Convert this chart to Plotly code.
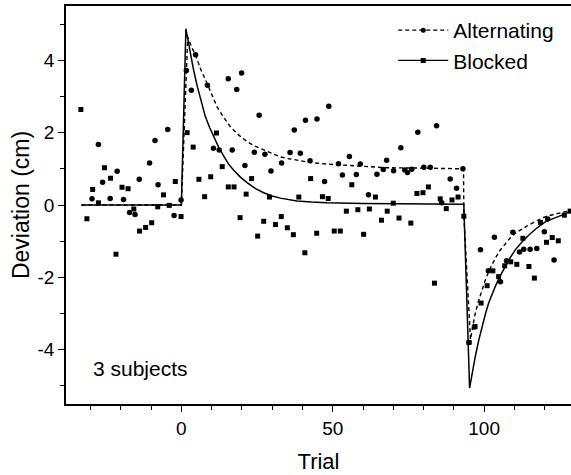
import plotly.graph_objects as go

# ---------------- data ----------------
# Blocked (squares)
blocked_trial = [-33.2, -31.2, -29.3, -27.4, -25.4, -23.4, -21.6, -19.6, -17.6, -15.7,
                 -13.8, -11.8, -9.8, -7.8, -5.9, -4.0, -2.0, -0.1,
                 1.9, 3.9, 5.8, 7.7, 9.7, 11.6, 13.5, 15.5, 17.4, 19.4, 21.4, 23.2,
                 25.2, 27.2, 29.1, 31.1, 33.0, 35.0, 37.0, 38.8, 40.8, 42.7, 44.7,
                 46.6, 48.5, 50.5, 52.5, 54.5, 56.3, 58.3, 60.2, 62.1, 64.1, 66.1,
                 68.0, 70.0, 71.9, 75.8, 77.8, 79.8, 81.6, 83.6, 85.5, 87.5, 89.4,
                 91.4, 93.3,
                 95.0, 97.0, 99.0, 101.0, 102.9, 104.8, 106.8, 108.8, 110.8, 112.8,
                 114.8, 116.6, 118.6, 120.6, 122.5, 124.5, 126.5, 128.4]
blocked_dev = [2.64, -0.38, 0.43, 0.06, 1.03, 0.74, -1.36, 0.49, 0.45, -0.11,
               -0.72, -0.62, -0.49, -0.05, 0.28, -0.01, 0.65, -0.32,
               2.00, 1.60, 0.71, 0.23, 0.78, 1.99, 1.06, 0.50, 0.50, -0.35, 0.30, 0.73,
               -0.86, -0.45, 0.22, -0.54, -0.32, -0.63, -0.82, 0.22, -1.32, 0.73, -0.78,
               0.23, 0.18, -0.72, -0.72, -0.17, 0.56, -0.13, -0.81, -0.11, 0.22, -0.42,
               -0.17, 0.05, -0.36, -0.50, 0.32, 0.34, 0.50, -2.16, 0.17, -0.10, 0.14,
               0.22, -0.31,
               -3.80, -3.36, -2.71, -2.23, -1.82, -1.98, -1.68, -1.57, -1.64, -0.92,
               -1.70, -2.02, -0.48, -1.03, -0.90, -0.99, -0.28, -0.17]

# Alternating (circles)
alt_trial = [-29.5, -27.4, -26.0, -23.5, -21.2, -19.1, -17.1, -15.3, -13.9, -10.5,
             -8.7, -7.7, -4.5, -2.4, -0.1,
             1.65, 3.3, 4.7, 8.6, 10.6, 12.5, 15.5, 16.8, 18.3, 19.9, 21.0, 24.1,
             25.7, 27.6, 29.6, 33.1, 35.9, 37.3, 39.3, 41.0, 42.5, 44.8, 47.3, 48.7,
             51.9, 53.2, 55.5, 57.8, 59.1, 61.8, 64.6, 66.7, 67.8, 70.1, 72.5, 73.8,
             74.7, 76.1, 78.1, 80.1, 82.2, 84.3, 86.0, 88.8, 90.9, 93.0,
             95.0, 96.8, 98.8, 101.4, 103.4, 105.4, 107.4, 109.5, 111.7, 113.1,
             115.2, 117.4, 119.9, 121.0, 123.1]
alt_dev = [0.17, 1.67, 0.63, 0.18, 0.93, 0.15, -0.21, -0.26, 0.71, 1.16,
           1.78, 0.56, 2.09, -0.29, 0.14,
           3.72, 3.17, 4.15, 3.31, 1.57, 1.52, 3.49, 1.52, 3.19, 3.65, 1.09, 1.46,
           2.48, 1.40, 0.94, 1.16, 1.45, 2.07, 1.43, 2.34, 1.22, 2.38, 0.65, 2.73,
           1.14, 0.83, 1.34, 0.84, 1.13, 0.28, 0.85, 0.98, 1.24, 0.95, 1.58, 0.97,
           0.90, 0.99, 2.01, 1.04, 1.04, 2.19, 0.06, 0.72, 0.46, 1.00,
           -3.80, -3.37, -1.24, -1.82, -0.89, -2.12, -1.54, -0.75, -1.30, -1.22,
           -1.22, -1.20, -0.74, -0.39, -1.52]

# Model curves
blocked_fit_trial = [-33, 0, 1.5, 2.2, 3.0, 4.0, 5.2, 6.5, 7.9, 9.3, 10.7, 12.3, 14.0,
                     15.6, 17.3, 19.5, 21.7, 24.5, 27.2, 30.0, 32.7, 35.5, 38.2, 43.0,
                     48.1, 60.0, 70.0, 93.3,
                     95.2, 96.0, 97.1, 98.2, 99.3, 100.4, 101.5, 102.6, 103.7, 105.3,
                     107.0, 108.6, 110.3, 112.5, 114.8, 117.5, 120.3, 123.0, 125.7, 128.7]
blocked_fit_dev = [0, 0, 4.87, 4.55, 4.18, 3.75, 3.30, 2.85, 2.45, 2.15, 1.90, 1.60, 1.35,
                   1.13, 0.96, 0.77, 0.62, 0.45, 0.34, 0.25, 0.19, 0.14, 0.11, 0.08,
                   0.06, 0.04, 0.03, 0.02,
                   -5.06, -4.65, -4.18, -3.75, -3.36, -3.02, -2.71, -2.46, -2.25, -1.96,
                   -1.70, -1.46, -1.24, -1.02, -0.83, -0.63, -0.46, -0.36, -0.28, -0.18]

alt_fit_trial = [-33, 0, 2.1, 3.3, 4.7, 6.5, 8.5, 10.2, 11.8, 14.0, 16.2, 19.0, 21.7,
                 24.5, 27.2, 30.0, 32.7, 35.5, 38.2, 43.0, 48.1, 56.9, 67.9, 78.9, 93.2,
                 93.3, 95.5, 96.3, 97.1, 98.2, 99.3, 100.4, 101.5, 102.6, 103.7, 105.3,
                 107.0, 108.6, 110.3, 112.5, 114.8, 117.5, 120.3, 123.0, 125.7, 128.7]
alt_fit_dev = [0, 0, 4.64, 4.38, 4.14, 3.73, 3.36, 3.00, 2.71, 2.42, 2.16, 1.93, 1.75,
               1.62, 1.52, 1.41, 1.33, 1.28, 1.24, 1.17, 1.13, 1.08, 1.03, 1.02, 1.00,
               -0.30, -3.72, -3.33, -2.99, -2.64, -2.34, -2.08, -1.84, -1.64, -1.47, -1.25,
               -1.06, -0.91, -0.78, -0.66, -0.55, -0.43, -0.32, -0.26, -0.21, -0.15]

x_tickvals = [0, 50, 100]
y_tickvals = [-4, -2, 0, 2, 4]

FONT = "Liberation Sans, Arial, sans-serif"

fig = go.Figure()

fig.add_trace(go.Scatter(x=alt_fit_trial, y=alt_fit_dev, mode="lines",
                         line=dict(color="black", width=1.4, dash="4px,3px"),
                         showlegend=False, hoverinfo="skip"))
fig.add_trace(go.Scatter(x=blocked_fit_trial, y=blocked_fit_dev, mode="lines",
                         line=dict(color="black", width=1.5),
                         showlegend=False, hoverinfo="skip"))
fig.add_trace(go.Scatter(x=alt_trial, y=alt_dev, mode="markers",
                         marker=dict(symbol="circle", size=5.5, color="black"),
                         showlegend=False))
fig.add_trace(go.Scatter(x=blocked_trial, y=blocked_dev, mode="markers",
                         marker=dict(symbol="square", size=5, color="black"),
                         showlegend=False))

# legend entries
fig.add_trace(go.Scatter(x=[None], y=[None], mode="lines+markers", name="Alternating",
                         line=dict(color="black", width=1.2, dash="4px,3px"),
                         marker=dict(symbol="circle", size=5, color="black")))
fig.add_trace(go.Scatter(x=[None], y=[None], mode="lines+markers", name="Blocked",
                         line=dict(color="black", width=1.2),
                         marker=dict(symbol="square", size=5, color="black")))

fig.add_annotation(x=-30, y=-4.52, xref="x", yref="y", text="3 subjects",
                   showarrow=False, xanchor="left", yanchor="middle",
                   font=dict(family=FONT, size=21, color="black"))

fig.update_layout(
    width=571, height=475,
    margin=dict(l=65.5, r=0, t=5.5, b=70.5),
    paper_bgcolor="white", plot_bgcolor="white",
    font=dict(family=FONT, size=19, color="black"),
    legend=dict(x=0.648, y=0.99, xanchor="left", yanchor="top",
                bgcolor="rgba(0,0,0,0)", borderwidth=0,
                font=dict(family=FONT, size=21, color="black"),
                itemwidth=50, tracegroupgap=0),
    xaxis=dict(range=[-38.1, 128.7], showgrid=False, zeroline=False,
               showline=True, linecolor="black", linewidth=1.5, mirror=True,
               ticks="outside", ticklen=6, tickwidth=1.3, tickcolor="black",
               tickvals=x_tickvals, ticktext=[str(v) for v in x_tickvals],
               tickfont=dict(size=19),
               minor=dict(dtick=10, tick0=0, ticks="outside", ticklen=4,
                          tickwidth=1.3, tickcolor="black"),
               title=dict(text="Trial", font=dict(size=22), standoff=16)),
    yaxis=dict(range=[-5.5, 5.5], showgrid=False, zeroline=False,
               showline=True, linecolor="black", linewidth=1.5, mirror=False,
               ticks="outside", ticklen=6, tickwidth=1.3, tickcolor="black",
               tickvals=y_tickvals, ticktext=[str(v) for v in y_tickvals],
               tickfont=dict(size=19),
               minor=dict(dtick=1, tick0=0, ticks="outside", ticklen=4,
                          tickwidth=1.3, tickcolor="black"),
               title=dict(text="Deviation (cm)", font=dict(size=23), standoff=1)),
)

fig.write_html("out.html")
